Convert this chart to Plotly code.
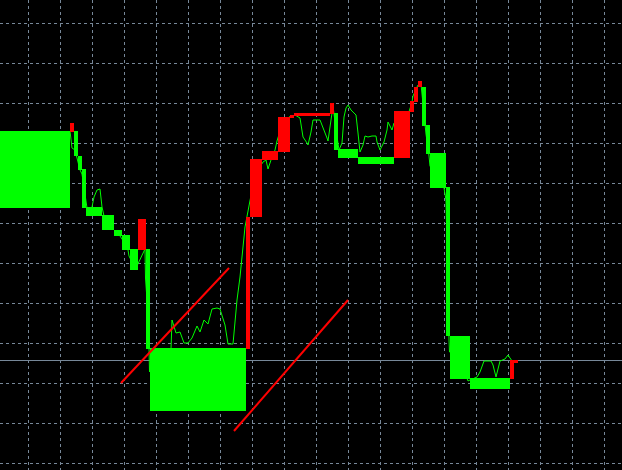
import plotly.graph_objects as go

# ---- data (time in bar index, price in points) ----
block_start = [-5, 17, 18, 19, 20, 21, 25, 28, 30, 32, 34, 36, 37, 61, 62, 65, 69, 72, 73, 82,
               83, 84, 89, 98, 102, 103, 104, 105, 106, 107, 111, 112, 117, 127, 128]
block_end = [17, 18, 19, 20, 21, 25, 28, 30, 32, 34, 36, 37, 61, 62, 65, 69, 72, 73, 82, 83,
             84, 89, 98, 102, 103, 104, 105, 106, 107, 111, 112, 117, 127, 128, 129]
block_high = [183.0, 185.0, 183.0, 176.75, 173.5, 164.0, 162.0, 158.25, 157.0, 153.5, 161.0,
              153.5, 128.75, 161.5, 176.0, 178.0, 186.5, 187.0, 187.5, 190.0,
              187.5, 178.5, 176.5, 188.0, 190.5, 194.0, 195.5, 194.0, 184.5, 177.5, 169.0,
              131.75, 121.25, 125.75, 125.75]
block_low = [163.75, 182.75, 176.75, 173.25, 163.75, 161.75, 158.25, 156.75, 153.25, 148.25,
             153.25, 128.5, 113.0, 128.5, 161.5, 175.75, 177.75, 186.25, 186.75, 187.25,
             178.25, 176.25, 174.75, 176.25, 187.75, 190.25, 194.0, 184.25, 177.25, 168.75,
             131.75, 121.0, 118.5, 121.0, 125.0]
block_dir = ["up", "down", "up", "up", "up", "up", "up", "up", "up", "up", "down", "up", "up",
             "down", "down", "down", "down", "down", "down", "down", "up", "up", "up", "down",
             "down", "down", "down", "up", "up", "up", "up", "up", "up", "down", "down"]

close_t = [17, 17.5, 18.25, 18.75, 19, 19.5, 20, 20.75, 21.25, 22, 22.5, 23, 23.75, 24.5, 24.75,
           25, 25.5, 26.5, 27.5, 28.5, 29.5, 30.5, 31.5, 31.75, 32.5, 33.5, 34.25, 35, 35.75,
           35.875, 36.25, 36.5, 36.75, 36.875, 37.25, 39.5, 42.25, 42.5, 43.5, 44.5, 45.5, 46.5,
           47.5, 48.75, 49.5, 50.5, 51.5, 52.5, 53.75, 54.5, 55.75, 56.5, 57.75, 58.75, 59.5,
           60.75, 61.5, 62.5, 64, 65.25, 66, 66.5, 67.25, 68.25, 68.75, 69.5, 71.75, 72.5, 73.25,
           74.5, 75.25, 76.25, 76.5, 77.25, 77.75, 79.5, 80.25, 81.25, 81.5, 82.25, 82.75, 83.5,
           84.25, 85, 85.5, 86, 86.5, 87.25, 88.5, 89, 89.5, 90.25, 90.75, 91.5, 92.5, 93.5,
           93.75, 94.5, 95.5, 96.25, 96.5, 97.5, 98, 99.5, 101.5, 102.5, 102.75, 103.75, 104,
           104.75, 105.75, 106, 106.75, 107, 110.5, 111, 111.75, 111.875, 114.5, 116.5, 117,
           118.75, 119.5, 120.5, 122.25, 122.75, 123.5, 124.5, 125.75, 126.5, 127.5, 128.5]
close_p = [183.0, 178.75, 178.25, 176.5, 175.5, 173.25, 172.25, 167.0, 163.75, 163.25, 164.0,
           166.5, 168.25, 168.5, 166.5, 164.0, 161.75, 160.25, 158.75, 157.75, 156.75, 155.25,
           153.25, 151.75, 150.25, 148.75, 150.25, 152.0, 153.5, 146.25, 140.75, 133.25, 128.75,
           122.75, 127.75, 128.5, 128.5, 135.75, 132.5, 132.75, 130.0, 130.0, 131.25, 134.25,
           132.75, 135.75, 134.75, 138.5, 138.75, 138.5, 134.5, 129.75, 129.75, 140.75, 146.5,
           159.0, 163.25, 168.25, 173.25, 175.25, 175.75, 173.5, 175.75, 178.25, 180.5, 183.0,
           186.5, 186.75, 187.0, 186.25, 181.5, 180.0, 179.5, 182.75, 185.75, 185.75, 184.0,
           181.25, 180.5, 186.5, 189.25, 183.25, 178.25, 180.0, 186.5, 188.75, 189.5, 188.25,
           187.0, 182.5, 177.75, 179.5, 181.75, 181.5, 181.75, 181.75, 180.25, 178.25, 180.25,
           183.25, 185.25, 183.25, 185.0, 183.25, 187.0, 190.25, 191.75, 194.0, 194.5, 194.75,
           183.75, 182.25, 176.75, 174.25, 168.75, 165.75, 130.75, 127.75, 125.75, 120.5, 120.75,
           121.5, 122.75, 125.5, 125.5, 124.5, 121.5, 125.5, 126.0, 127.0, 125.5, 125.5]

trend_t0 = [29.75, 58.0]
trend_p0 = [120.0, 108.0]
trend_t1 = [56.75, 86.5]
trend_p1 = [148.75, 140.75]

bid_price = 125.625

GREEN = "#00FF00"
RED = "#FF0000"
GRID = "#778899"

fig = go.Figure()

# bid line
fig.add_trace(go.Scatter(x=[-5, 170], y=[bid_price, bid_price], mode="lines",
                         line=dict(color=GRID, width=1), hoverinfo="skip"))

# close line
fig.add_trace(go.Scatter(x=close_t, y=close_p, mode="lines",
                         line=dict(color=GREEN, width=1), hoverinfo="skip"))

# blocks
for d, col in (("up", GREEN), ("down", RED)):
    xs, ys = [], []
    for s, e, h, l, dd in zip(block_start, block_end, block_high, block_low, block_dir):
        if dd != d:
            continue
        xs += [s, e, e, s, s, None]
        ys += [l, l, h, h, l, None]
    fig.add_trace(go.Scatter(x=xs, y=ys, mode="lines", fill="toself", fillcolor=col,
                             line=dict(width=0, color=col), hoverinfo="skip"))

# trend lines
for a, b, c, d in zip(trend_t0, trend_p0, trend_t1, trend_p1):
    fig.add_trace(go.Scatter(x=[a, c], y=[b, d], mode="lines",
                             line=dict(color=RED, width=2), hoverinfo="skip"))

fig.update_layout(
    width=622, height=470,
    margin=dict(l=0, r=0, t=0, b=0),
    paper_bgcolor="black", plot_bgcolor="black",
    showlegend=False,
    xaxis=dict(range=[-0.5, 155], showgrid=True, gridcolor=GRID, griddash="3px,3px",
               gridwidth=1, tick0=6.6, dtick=8, showticklabels=False, ticks="",
               zeroline=False, showline=False, fixedrange=True),
    yaxis=dict(range=[98.25, 215.75], showgrid=True, gridcolor=GRID, griddash="3px,3px",
               gridwidth=1, tick0=189.92, dtick=10, showticklabels=False, ticks="",
               zeroline=False, showline=False, fixedrange=True),
)

fig.write_html(
    "out.html",
    config={"displayModeBar": False},
    post_script="document.body.style.margin='0';document.body.style.background='black';",
)
